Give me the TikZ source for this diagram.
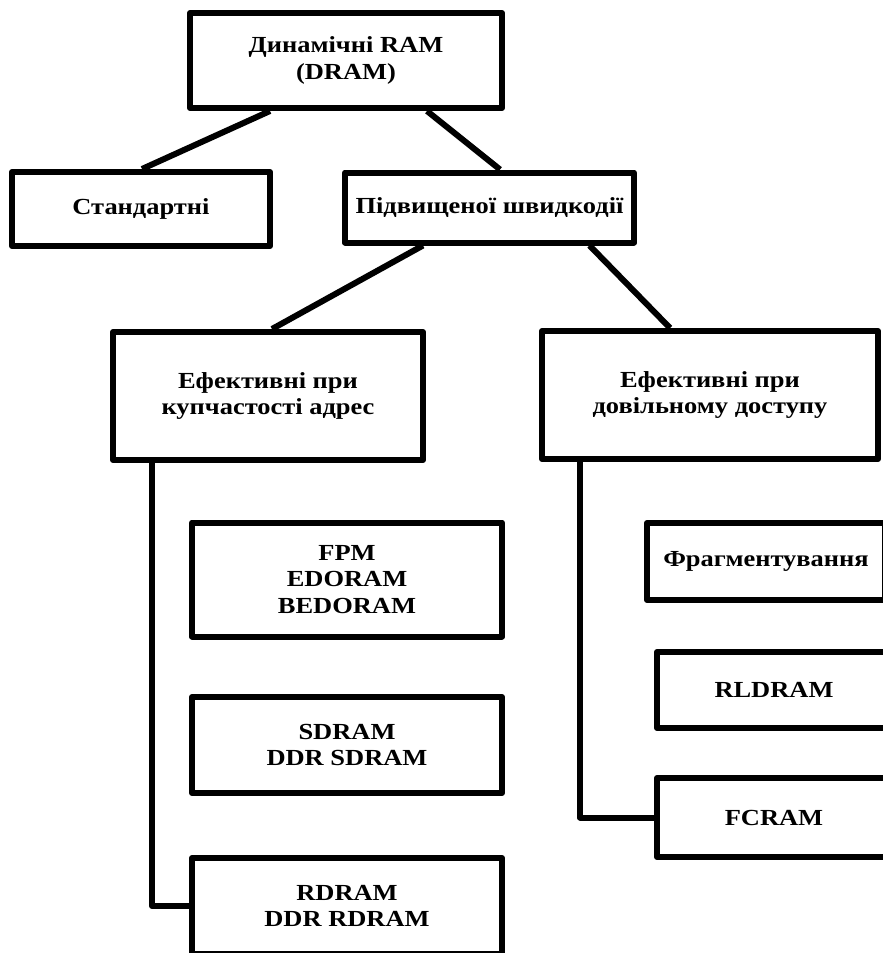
\documentclass[tikz,border=0pt]{standalone}
\usepackage{fontspec}
\setmainfont{Liberation Serif}[FakeStretch=1.15]
\begin{document}
\begin{tikzpicture}[x=1pt,y=-1pt,
  box/.style={draw, line width=6pt, line join=round, inner sep=0pt,
    align=center, font=\fontsize{23}{26.5}\selectfont\bfseries},
  link/.style={line width=6pt, line join=round}]
\useasboundingbox (0,0) rectangle (883,953);
\clip (0,0) rectangle (883,953);

% tree nodes
\node[box, minimum width=312pt, minimum height=95pt] (top) at (346,60.5) {Динамічні RAM\\(DRAM)};
\node[box, minimum width=258pt, minimum height=74pt] (std) at (141,209) {Стандартні};
\node[box, minimum width=289pt, minimum height=70pt] (fast) at (489.5,207.5) {Підвищеної швидкодії};
\node[box, minimum width=310pt, minimum height=128pt] (burst) at (268,396) {Ефективні при\\купчастості адрес};
\node[box, minimum width=336pt, minimum height=128pt] (rand) at (710,395) {Ефективні при\\довільному доступу};

% left branch
\node[box, minimum width=310pt, minimum height=114pt] (fpm) at (347,579.5) {FPM\\EDORAM\\BEDORAM};
\node[box, minimum width=310pt, minimum height=96pt] (sdram) at (347,745) {SDRAM\\DDR SDRAM};
\node[box, minimum width=310pt, minimum height=96pt] (rdram) at (347,906) {RDRAM\\DDR RDRAM};

% right branch
\node[box, minimum width=238pt, minimum height=77pt] (frag) at (766,561.5) {Фрагментування};
\node[box, minimum width=234pt, minimum height=76pt] (rld) at (774,690) {RLDRAM};
\node[box, minimum width=234pt, minimum height=79pt] (fcram) at (774,817.5) {FCRAM};

% connectors
\draw[link] ([xshift=-76pt]top.south) -- ([xshift=1pt]std.north);
\draw[link] ([xshift=81pt]top.south) -- ([xshift=10.5pt]fast.north);
\draw[link] ([xshift=-66.5pt]fast.south) -- ([xshift=4pt]burst.north);
\draw[link] ([xshift=100pt]fast.south) -- ([xshift=-40pt]rand.north);
\draw[link] ([xshift=-116pt]burst.south) |- (rdram.west);
\draw[link] ([xshift=-130pt]rand.south) |- (fcram.west);
\end{tikzpicture}
\end{document}
